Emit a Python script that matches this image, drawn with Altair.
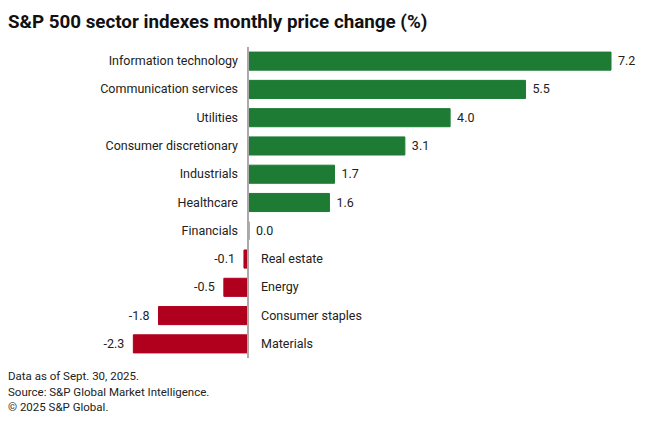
import altair as alt
import pandas as pd

sectors = ["Information technology", "Communication services", "Utilities",
           "Consumer discretionary", "Industrials", "Healthcare", "Financials",
           "Real estate", "Energy", "Consumer staples", "Materials"]
changes = [7.2, 5.5, 4.0, 3.1, 1.7, 1.6, 0.0, -0.1, -0.5, -1.8, -2.3]
notes = ["Data as of Sept. 30, 2025.",
         "Source: S&P Global Market Intelligence.",
         "© 2025 S&P Global."]
title_text = "S&P 500 sector indexes monthly price change (%)"

FONT = "Roboto"
GREEN = "#1e7b34"
RED = "#b0001e"
TXT = "#222222"

df = pd.DataFrame({"sector": sectors, "change": changes})
df["label"] = df["change"].map(lambda v: f"{v:.1f}")
df["zero"] = 0.0
df["color"] = [GREEN if v >= 0 else RED for v in changes]

xscale = alt.Scale(domain=[-4.773, 8.035], nice=False, zero=False)
y = alt.Y("sector:N", sort=sectors, axis=None,
          scale=alt.Scale(paddingInner=0.36, paddingOuter=0.18))
x = alt.X("change:Q", axis=None, scale=xscale)
x0 = alt.X("zero:Q", axis=None, scale=xscale)

base = alt.Chart(df)

bars = base.mark_bar(strokeWidth=1, xOffset=1).encode(
    x=x, x2=alt.X2("zero:Q"), y=y,
    color=alt.Color("color:N", scale=None),
    stroke=alt.Stroke("color:N", scale=None))

rule = base.mark_rule(color="#aaaaaa", strokeWidth=1).encode(x=x0)

pos = base.transform_filter("datum.change >= 0")
neg = base.transform_filter("datum.change < 0")
tstyle = dict(font=FONT, fontSize=12.5, color=TXT, baseline="middle")

val_pos = pos.mark_text(align="left", dx=8, **tstyle).encode(x=x, y=y, text="label:N")
val_neg = neg.mark_text(align="right", dx=-8, **tstyle).encode(x=x, y=y, text="label:N")
cat_pos = pos.mark_text(align="right", dx=-10, **tstyle).encode(x=x0, y=y, text="sector:N")
cat_neg = neg.mark_text(align="left", dx=13, **tstyle).encode(x=x0, y=y, text="sector:N")

foot = alt.Chart(pd.DataFrame({"t": ["\n".join(notes)]})).mark_text(
    align="left", baseline="alphabetic", font=FONT, fontSize=11.5, color=TXT,
    lineBreak="\n", lineHeight=15.5
).encode(x=alt.value(0), y=alt.value(333), text="t:N")

chart = alt.layer(bars, rule, val_pos, val_neg, cat_pos, cat_neg, foot).properties(
    width=644, height=311,
    autosize=alt.AutoSizeParams(type="none"),
    padding={"left": 0, "top": 39, "right": 0, "bottom": 65},
    title=alt.Title(title_text, anchor="start", font=FONT, fontSize=18.8,
                    fontWeight="bold", color="#111111", offset=15),
).configure_view(stroke=None)

chart.save("out.html", embed_options={"renderer": "svg", "actions": False})
